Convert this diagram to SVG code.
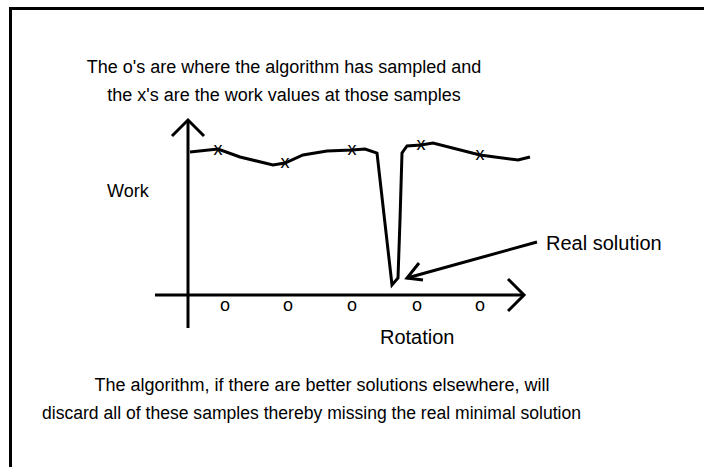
<svg xmlns="http://www.w3.org/2000/svg" width="704" height="467" viewBox="0 0 704 467">
<style>
.t{font-family:"Liberation Sans",Arial,sans-serif;font-size:18px;fill:#000}
.l{font-family:"Liberation Sans",Arial,sans-serif;font-size:20px;fill:#000}
.ln{fill:none;stroke:#000;stroke-width:3;stroke-linejoin:miter}
.mk{font-family:"Liberation Sans",Arial,sans-serif;font-size:18px;fill:#000;text-anchor:middle}
</style>
<rect width="704" height="467" fill="#fff"/>
<g id="frame"><path class="ln" d="M10.5 467 V8.5 H704" stroke-width="3.5"/></g>
<g id="caption-top">
<text class="t" x="284" y="73" text-anchor="middle">The o's are where the algorithm has sampled and</text>
<text class="t" x="284" y="101" text-anchor="middle">the x's are the work values at those samples</text>
</g>
<g id="axes">
<polyline class="ln" points="188,328 188,120"/>
<polyline class="ln" points="172,136 188,120 204,136"/>
<polyline class="ln" points="155,295 524,295"/>
<polyline class="ln" points="508,279 524,295 508,311"/>
</g>
<g id="curve">
<polyline class="ln" points="190,152 218,149 240,157 273,165 285,163 303,155 327,151 352,150 365,149 377,153 392,285 398,278 400,220 402,153 407,146 421,145 433,143 480,155 518,160 530,157"/>
</g>
<g id="samples-x">
<text class="mk" x="218" y="155">x</text>
<text class="mk" x="285" y="168">x</text>
<text class="mk" x="352" y="155">x</text>
<text class="mk" x="421" y="150">x</text>
<text class="mk" x="480" y="160">x</text>
</g>
<g id="samples-o">
<text class="mk" x="225" y="311">o</text>
<text class="mk" x="288" y="311">o</text>
<text class="mk" x="352" y="311">o</text>
<text class="mk" x="417" y="311">o</text>
<text class="mk" x="480" y="311">o</text>
</g>
<g id="labels">
<text class="t" x="107" y="197">Work</text>
<text class="l" x="380" y="344">Rotation</text>
<text class="l" x="546" y="250">Real solution</text>
</g>
<g id="connectors">
<polyline class="ln" points="537,242 407,278"/>
<polyline class="ln" points="419,263 407,278 423,280"/>
</g>
<g id="caption-bottom">
<text class="t" x="322" y="391" text-anchor="middle">The algorithm, if there are better solutions elsewhere, will</text>
<text class="t" x="42" y="419" textLength="539" lengthAdjust="spacingAndGlyphs">discard all of these samples thereby missing the real minimal solution</text>
</g>
</svg>
